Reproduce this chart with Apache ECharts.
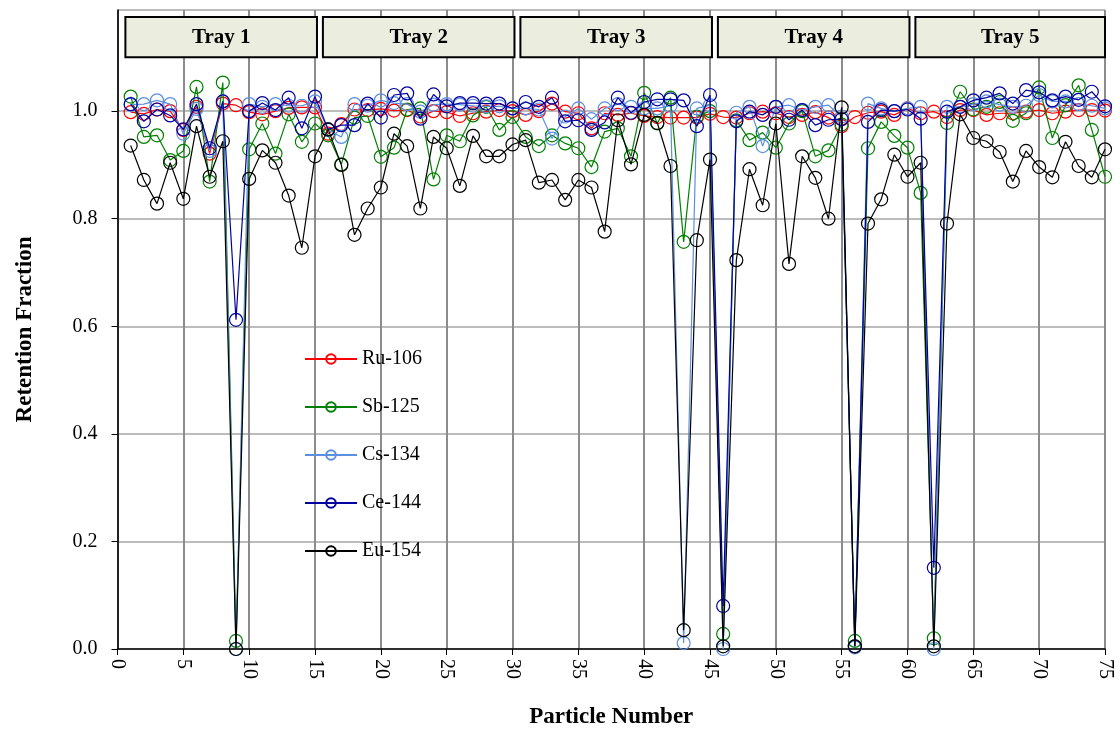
<!DOCTYPE html>
<html>
<head>
<meta charset="utf-8">
<script src="https://cdn.jsdelivr.net/npm/echarts@6/dist/echarts.min.js"></script>
<style>html,body{margin:0;padding:0;background:#fff}#c{width:1115px;height:729px}</style>
</head>
<body>
<div id="c"></div>
<script>
// ---- data ----
const particles = Array.from({length: 75}, (_, i) => i + 1);
const seriesNames = ['Ru-106', 'Sb-125', 'Cs-134', 'Ce-144', 'Eu-154'];
const ru106 = [0.998,0.995,1.003,1.000,0.965,1.008,0.921,1.014,1.011,0.998,
  0.994,1.000,1.006,1.007,1.007,0.958,0.976,1.003,1.002,1.004,
  1.001,1.002,0.990,1.000,0.998,0.991,0.996,0.999,1.002,1.000,
  0.993,1.000,1.014,0.999,0.996,0.968,0.996,0.993,0.996,0.991,
  0.989,0.988,0.988,0.988,0.995,0.989,0.988,0.996,0.999,0.996,
  0.989,0.993,0.998,0.988,0.972,0.989,0.997,0.999,0.993,1.005,
  0.996,0.999,0.989,1.002,1.002,0.993,0.996,0.996,0.999,1.002,
  0.996,0.999,1.002,1.002,1.001];
const sb125 = [1.027,0.952,0.955,0.909,0.926,1.045,0.869,1.053,0.015,0.929,
  0.977,0.921,0.994,0.943,0.977,0.955,0.901,0.988,0.991,0.915,
  0.932,1.003,1.005,0.873,0.955,0.944,0.992,1.008,0.965,0.989,
  0.952,0.935,0.955,0.940,0.931,0.896,0.962,0.968,0.916,1.034,
  0.977,1.025,0.757,0.990,1.000,0.028,0.983,0.946,0.960,0.932,
  0.977,1.000,0.916,0.927,0.975,0.015,0.931,0.980,0.954,0.932,
  0.848,0.020,0.978,1.036,1.003,1.008,1.017,0.982,0.996,1.044,
  0.950,1.011,1.048,0.965,0.878];
const cs134 = [1.012,1.013,1.020,1.013,0.958,1.004,0.926,1.018,0.000,1.013,
  1.008,1.013,1.010,1.010,1.018,0.965,0.952,1.013,1.010,1.020,
  1.015,1.013,0.999,1.012,1.013,1.012,1.010,1.009,1.009,1.005,
  1.005,1.003,0.949,0.990,1.005,0.985,1.005,1.013,1.008,1.005,
  1.005,1.010,0.011,1.005,1.011,0.000,0.997,1.008,0.935,1.008,
  1.011,1.002,1.008,1.011,0.990,0.003,1.014,1.005,1.000,1.005,
  1.008,0.000,1.008,1.008,1.013,1.018,1.012,1.008,1.010,1.030,
  1.018,1.018,1.013,1.010,1.005];
const ce144 = [1.013,0.981,1.003,0.992,0.966,1.013,0.931,1.018,0.612,1.000,
  1.015,1.002,1.025,0.968,1.027,0.966,0.974,0.974,1.014,0.988,
  1.030,1.033,0.986,1.031,1.009,1.015,1.015,1.014,1.014,1.005,
  1.017,1.008,1.025,0.981,0.983,0.965,0.979,1.025,0.997,1.017,
  1.022,1.022,1.020,0.972,1.030,0.080,0.981,0.999,0.993,1.008,
  0.984,1.002,0.974,0.984,0.985,0.005,0.980,1.002,1.000,1.003,
  0.986,0.151,0.999,1.008,1.020,1.025,1.033,1.014,1.039,1.035,
  1.020,1.027,1.021,1.036,1.009];
const eu154 = [0.936,0.872,0.828,0.904,0.837,0.972,0.878,0.944,0.000,0.874,
  0.927,0.904,0.843,0.746,0.916,0.966,0.900,0.770,0.819,0.858,
  0.958,0.935,0.819,0.952,0.931,0.861,0.954,0.916,0.916,0.938,
  0.946,0.867,0.872,0.835,0.872,0.858,0.776,0.983,0.901,0.993,
  0.978,0.898,0.035,0.760,0.910,0.005,0.723,0.892,0.825,0.977,
  0.716,0.916,0.876,0.800,1.007,0.005,0.791,0.836,0.919,0.878,
  0.904,0.005,0.791,0.994,0.950,0.944,0.924,0.869,0.926,0.896,
  0.877,0.943,0.898,0.877,0.929];
const trayNames = ['Tray 1', 'Tray 2', 'Tray 3', 'Tray 4', 'Tray 5'];
const trayFirst = [1, 16, 31, 46, 61];
const trayLast = [15, 30, 45, 60, 75];
const yTicks = [0, 0.2, 0.4, 0.6, 0.8, 1.0];

// ---- chart ----
const FONT = '"Liberation Serif", "Times New Roman", serif';
const colors = ['#FF0000', '#008000', '#5B8FE0', '#0000A0', '#000000'];
const values = [ru106, sb125, cs134, ce144, eu154];

const chart = echarts.init(document.getElementById('c'), null, {renderer: 'canvas'});

const trayAreas = trayNames.map((n, i) => [
  {name: n, xAxis: trayFirst[i] - 0.4, yAxis: 1.100},
  {xAxis: Math.min(trayLast[i] + 0.15, 75), yAxis: 1.175}
]);

const series = seriesNames.map((name, k) => ({
  name: name,
  type: 'line',
  data: particles.map((p, i) => [p, values[k][i]]),
  symbol: 'circle',
  symbolSize: 13,
  showAllSymbol: true,
  lineStyle: {width: 1.2, color: colors[k]},
  itemStyle: {color: 'rgba(255,255,255,0)', borderWidth: 1.2, borderColor: colors[k]},
  emphasis: {disabled: true},
  animation: false,
  z: 3 + k
}));

series.push({
  name: 'trays',
  type: 'line',
  data: [],
  silent: true,
  animation: false,
  markArea: {
    silent: true,
    itemStyle: {color: '#EBEEDE', borderColor: '#000', borderWidth: 2},
    label: {
      show: true, position: 'inside', color: '#000',
      fontFamily: FONT, fontWeight: 'bold', fontSize: 21
    },
    data: trayAreas
  }
});

chart.setOption({
  animation: false,
  backgroundColor: '#fff',
  grid: {left: 117.5, right: 10, top: 10, bottom: 80, containLabel: false, outerBoundsMode: 'none'},
  legend: {
    data: seriesNames,
    orient: 'vertical',
    left: 304,
    top: 349,
    padding: 0,
    itemWidth: 52,
    itemHeight: 12,
    itemGap: 28,
    textStyle: {fontFamily: FONT, fontSize: 20, color: '#000'},
    selectedMode: false
  },
  xAxis: {
    type: 'value',
    min: 0, max: 75, interval: 5,
    name: 'Particle Number',
    nameLocation: 'middle',
    nameGap: 57,
    nameTextStyle: {fontFamily: FONT, fontWeight: 'bold', fontSize: 23, color: '#000'},
    axisLine: {show: true, onZero: false, lineStyle: {color: '#000', width: 1.5}},
    axisTick: {show: true, length: 6, lineStyle: {color: '#000', width: 1}},
    axisLabel: {rotate: -90, margin: 10, fontFamily: FONT, fontSize: 20, color: '#000'},
    splitLine: {show: true, lineStyle: {color: '#8c8c8c', width: 2}}
  },
  yAxis: {
    type: 'value',
    min: 0, max: 1.188, interval: 0.2,
    name: 'Retention Fraction',
    nameLocation: 'middle',
    nameRotate: 90,
    nameGap: 81,
    nameTextStyle: {fontFamily: FONT, fontWeight: 'bold', fontSize: 23, color: '#000'},
    axisLine: {show: true, lineStyle: {color: '#000', width: 1.5}},
    axisTick: {show: true, length: 6, lineStyle: {color: '#000', width: 1}},
    axisLabel: {
      margin: 20, fontFamily: FONT, fontSize: 20, color: '#000',
      showMaxLabel: false,
      formatter: v => (yTicks.some(t => Math.abs(t - v) < 1e-6) ? v.toFixed(1) : '')
    },
    splitLine: {show: true, lineStyle: {color: '#a6a6a6', width: 1.5}}
  },
  series: series
});
</script>
</body>
</html>
